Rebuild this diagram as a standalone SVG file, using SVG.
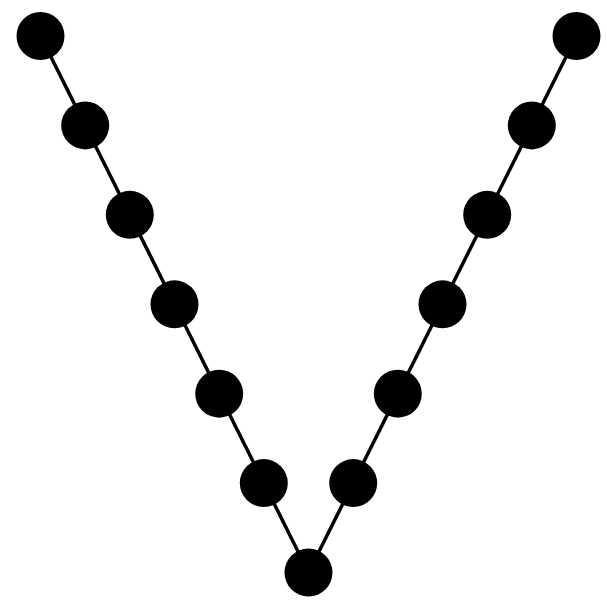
<svg xmlns="http://www.w3.org/2000/svg" width="607" height="605" viewBox="0 0 607 605">
<style>
.node circle{fill:#000}
.edges line{stroke:#000;stroke-width:3.5}
</style>
<rect width="607" height="605" fill="#fff"/>
<g class="edges">
<line x1="40.5" y1="36" x2="308.5" y2="572.5"/>
<line x1="576.5" y1="36" x2="308.5" y2="572.5"/>
</g>
<g id="n1" class="node"><circle cx="40.5" cy="36" r="24"/></g>
<g id="n2" class="node"><circle cx="85.2" cy="125.4" r="24"/></g>
<g id="n3" class="node"><circle cx="129.8" cy="214.8" r="24"/></g>
<g id="n4" class="node"><circle cx="174.5" cy="304.3" r="24"/></g>
<g id="n5" class="node"><circle cx="219.2" cy="393.7" r="24"/></g>
<g id="n6" class="node"><circle cx="263.8" cy="483.1" r="24"/></g>
<g id="n7" class="node"><circle cx="308.5" cy="572.5" r="24"/></g>
<g id="n8" class="node"><circle cx="353.2" cy="483.1" r="24"/></g>
<g id="n9" class="node"><circle cx="397.8" cy="393.7" r="24"/></g>
<g id="n10" class="node"><circle cx="442.5" cy="304.3" r="24"/></g>
<g id="n11" class="node"><circle cx="487.2" cy="214.8" r="24"/></g>
<g id="n12" class="node"><circle cx="531.8" cy="125.4" r="24"/></g>
<g id="n13" class="node"><circle cx="576.5" cy="36" r="24"/></g>
</svg>
